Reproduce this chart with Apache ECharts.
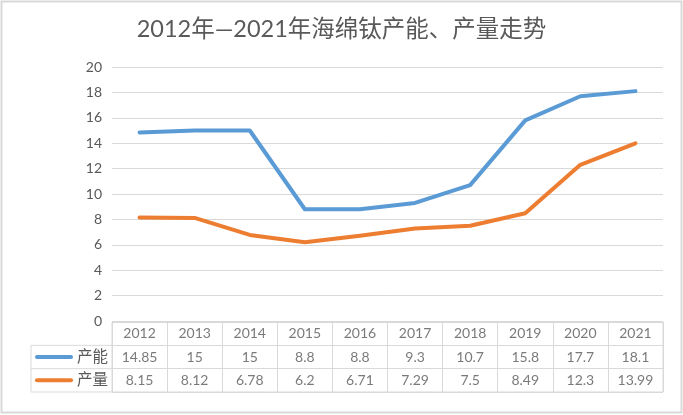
<!DOCTYPE html>
<html>
<head>
<meta charset="utf-8">
<script src="https://cdn.jsdelivr.net/npm/echarts@6/dist/echarts.min.js"></script>
<style>
html,body{margin:0;padding:0;background:#fff;}
#main{width:683px;height:415px;}
</style>
</head>
<body>
<div id="main"></div>
<script>
const title = '2012年—2021年海绵钛产能、产量走势';
const years = ['2012','2013','2014','2015','2016','2017','2018','2019','2020','2021'];
const seriesNames = ['产能','产量'];
const capacity = [14.85,15,15,8.8,8.8,9.3,10.7,15.8,17.7,18.1];
const production = [8.15,8.12,6.78,6.2,6.71,7.29,7.5,8.49,12.3,13.99];
const yTicks = {min:0, max:20, interval:2};
const colors = ['#5B9BD5','#ED7D31'];
const FONT = 'Lato, "Noto Sans CJK SC", sans-serif';
const TXT = '#595959';
const GRID = '#D9D9D9';

const rowKeys = ['hdr'].concat(seriesNames);
const tableData = [];
years.forEach((y,i)=>{
  tableData.push([i,0,y]);
  tableData.push([i,1,String(capacity[i])]);
  tableData.push([i,2,String(production[i])]);
});

const chart = echarts.init(document.getElementById('main'));
const option = {
  backgroundColor:'#fff',
  animation:false,
  title:{
    text:title, left:'center', top:13,
    textStyle:{fontFamily:FONT, fontSize:23.5, fontWeight:'normal', color:TXT}
  },
  grid:[
    {left:112, right:20, top:67, height:254},
    {left:112, right:20, top:322, height:70, show:true, borderColor:GRID, borderWidth:1}
  ],
  xAxis:[
    {type:'category', gridIndex:0, data:years, boundaryGap:true,
     axisLine:{show:false}, axisTick:{show:false}, axisLabel:{show:false}},
    {type:'category', gridIndex:1, data:years, boundaryGap:true,
     axisLine:{show:false}, axisTick:{show:false}, axisLabel:{show:false},
     splitLine:{show:true, lineStyle:{color:GRID, width:1}}}
  ],
  yAxis:[
    {type:'value', gridIndex:0, min:yTicks.min, max:yTicks.max, interval:yTicks.interval,
     axisLine:{show:false}, axisTick:{show:false},
     axisLabel:{color:TXT, fontFamily:FONT, fontSize:14, margin:10},
     splitLine:{lineStyle:{color:GRID, width:1}}},
    {type:'category', gridIndex:1, data:rowKeys, inverse:true, boundaryGap:true,
     axisLine:{show:false}, axisTick:{show:false},
     splitLine:{show:true, lineStyle:{color:GRID, width:1}},
     axisLabel:{
       margin:4, fontFamily:FONT,
       formatter:function(v){
         if(v==='hdr') return '';
         const idx = seriesNames.indexOf(v);
         return '{l'+idx+'|}{t|'+v+'}';
       },
       rich:{
         l0:{backgroundColor:colors[0], width:38, height:4, borderRadius:2},
         l1:{backgroundColor:colors[1], width:38, height:4, borderRadius:2},
         t:{color:TXT, fontSize:15.5, fontFamily:FONT, padding:[0,0,0,4]}
       }
     }}
  ],
  series:[
    {name:seriesNames[0], type:'line', xAxisIndex:0, yAxisIndex:0, data:capacity,
     symbol:'none', lineStyle:{color:colors[0], width:4, cap:'round', join:'round'}},
    {name:seriesNames[1], type:'line', xAxisIndex:0, yAxisIndex:0, data:production,
     symbol:'none', lineStyle:{color:colors[1], width:4, cap:'round', join:'round'}},
    {type:'scatter', xAxisIndex:1, yAxisIndex:1, data:tableData, symbolSize:0,
     label:{show:true, position:'inside', color:TXT, fontFamily:FONT, fontSize:14,
       formatter:function(p){return p.value[2];}}}
  ]
};
chart.setOption(option);

const rowH = 70/3;
const gTop = 322, gLeft = 112;
chart.setOption({
  graphic:[
    {type:'rect', shape:{x:1.5, y:1.5, width:680, height:411}, style:{fill:null, stroke:GRID, lineWidth:2}, silent:true},
    {type:'polyline', shape:{points:[[gLeft,gTop+rowH],[31,gTop+rowH],[31,gTop+70],[gLeft,gTop+70]]},
     style:{fill:null, stroke:GRID, lineWidth:1}, silent:true},
    {type:'line', shape:{x1:31,y1:gTop+2*rowH,x2:gLeft,y2:gTop+2*rowH}, style:{stroke:GRID, lineWidth:1}, silent:true}
  ]
});
</script>
</body>
</html>
